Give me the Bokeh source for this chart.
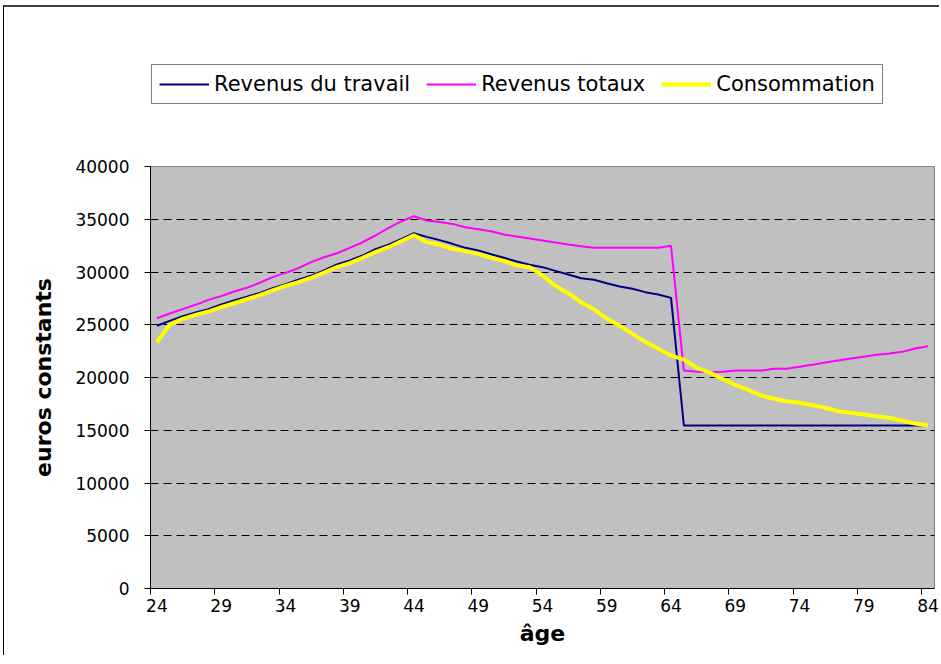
from bokeh.plotting import figure
from bokeh.models import Range1d, FixedTicker, Legend, LegendItem
from bokeh.layouts import column
from bokeh.embed import file_html
from bokeh.resources import INLINE

# ---- data ----
ages = list(range(24, 85))

revenus_travail = [
    24900, 25370, 25810, 26160, 26480, 26920, 27300, 27650, 28020, 28470,
    28850, 29260, 29640, 30140, 30710, 31090, 31560, 32160, 32580, 33110,
    33670, 33330, 33020, 32670, 32290, 32040, 31690, 31350, 31000, 30680,
    30460, 30110, 29760, 29410, 29260, 28940, 28630, 28410, 28090, 27870,
    27550, 15450, 15450, 15450, 15450, 15450, 15450, 15450, 15450, 15450,
    15450, 15450, 15450, 15450, 15450, 15450, 15450, 15450, 15450, 15450,
    15450,
]

revenus_totaux = [
    25620, 26070, 26480, 26890, 27360, 27710, 28150, 28500, 28980, 29510,
    29920, 30360, 30930, 31400, 31780, 32290, 32820, 33460, 34150, 34790,
    35290, 34880, 34750, 34560, 34250, 34060, 33870, 33550, 33360, 33180,
    32990, 32800, 32610, 32450, 32290, 32290, 32290, 32290, 32290, 32290,
    32480, 20660, 20540, 20500, 20540, 20660, 20660, 20660, 20820, 20820,
    21010, 21200, 21420, 21610, 21800, 21960, 22150, 22270, 22430, 22750,
    22970,
]

consommation = [
    23350, 25020, 25560, 25940, 26250, 26670, 27040, 27420, 27800, 28250,
    28690, 29030, 29450, 29950, 30460, 30840, 31350, 31880, 32350, 32920,
    33480, 32830, 32580, 32200, 31980, 31720, 31350, 31030, 30620, 30460,
    29670, 28690, 27990, 27140, 26480, 25590, 24900, 24140, 23380, 22720,
    22090, 21700, 20920, 20470, 19870, 19300, 18830, 18290, 17980, 17750,
    17600, 17370, 17130, 16810, 16650, 16490, 16330, 16180, 15890, 15640,
    15450,
]

x_tick_ages = list(range(24, 85, 5))
y_ticks = list(range(0, 40001, 5000))
series_names = ["Revenus du travail", "Revenus totaux", "Consommation"]
series_colors = ["#000080", "#FF00FF", "#FFFF00"]
series_widths = [2, 2, 4]

# category centres (Excel-style: category sits between two tick marks)
x_centres = [a + 0.5 for a in ages]

FONT = "DejaVu Sans"
W = 935
TOP_H = 110
MAIN_H = 538

# ---------- main chart ----------
p = figure(
    width=W, height=MAIN_H,
    x_range=Range1d(ages[0], ages[-1] + 1),
    y_range=Range1d(0, 40000),
    output_backend="svg", toolbar_location=None,
    min_border_left=146, min_border_right=5,
    min_border_top=49, min_border_bottom=67,
    background_fill_color="#C0C0C0", border_fill_color="white",
    outline_line_color="#808080", outline_line_width=1,
)

series_data = [revenus_travail, revenus_totaux, consommation]
for vals, col, lw in zip(series_data, series_colors, series_widths):
    p.line(x_centres, vals, line_color=col, line_width=lw)

# x axis: tick marks on category boundaries, labels on category centres
xa = p.xaxis[0]
xa.ticker = FixedTicker(ticks=[a + 0.5 for a in x_tick_ages], minor_ticks=x_tick_ages)
xa.major_label_overrides = {a + 0.5: str(a) for a in x_tick_ages}
xa.major_tick_line_color = None
xa.major_tick_out = 6
xa.major_tick_in = 0
xa.minor_tick_line_color = "black"
xa.minor_tick_out = 6
xa.minor_tick_in = 0
xa.axis_line_color = "black"
xa.major_label_text_font = FONT
xa.major_label_text_font_size = "17px"
xa.major_label_text_color = "black"
xa.major_label_standoff = 4
xa.axis_label = "âge"
xa.axis_label_text_font = FONT
xa.axis_label_text_font_style = "bold"
xa.axis_label_text_font_size = "22px"
xa.axis_label_text_color = "black"
xa.axis_label_standoff = 6

ya = p.yaxis[0]
ya.ticker = FixedTicker(ticks=y_ticks)
ya.major_tick_out = 6
ya.major_tick_in = 0
ya.minor_tick_line_color = None
ya.axis_line_color = "black"
ya.major_tick_line_color = "black"
ya.major_label_text_font = FONT
ya.major_label_text_font_size = "17px"
ya.major_label_text_color = "black"
ya.major_label_standoff = 15
ya.axis_label = "euros constants"
ya.axis_label_text_font = FONT
ya.axis_label_text_font_style = "bold"
ya.axis_label_text_font_size = "22px"
ya.axis_label_text_color = "black"
ya.axis_label_standoff = 16

p.xgrid.visible = False
p.ygrid.ticker = FixedTicker(ticks=y_ticks[1:-1])
p.ygrid.grid_line_color = "black"
p.ygrid.grid_line_width = 1
p.ygrid.grid_line_dash = "8 5"

# ---------- legend strip above the chart ----------
top = figure(
    width=W, height=TOP_H,
    x_axis_type=None, y_axis_type=None,
    x_range=Range1d(0, 1), y_range=Range1d(0, 1),
    output_backend="svg", toolbar_location=None,
    min_border=0, min_border_left=0, min_border_right=0,
    min_border_top=0, min_border_bottom=0,
    background_fill_color="white", border_fill_color="white",
    outline_line_color=None,
)
top.xgrid.visible = False
top.ygrid.visible = False
# proxy lines (outside the visible range) that only feed the legend swatches
legend_renderers = [
    top.line([5, 6], [5, 6], line_color=c, line_width=lw)
    for c, lw in zip(series_colors, series_widths)
]
legend = Legend(
    items=[LegendItem(label=n, renderers=[r]) for n, r in zip(series_names, legend_renderers)],
    orientation="horizontal",
    location=(1, 13),
    border_line_color="black", border_line_width=1,
    background_fill_color="white", background_fill_alpha=1.0,
    label_text_font=FONT, label_text_font_size="21px", label_text_color="black",
    glyph_width=50, glyph_height=20, label_height=20,
    label_standoff=5, spacing=16, padding=7, margin=0,
)
top.add_layout(legend, "center")

layout = column(top, p, spacing=0)
layout.styles = {
    "margin-left": "3px", "margin-top": "5px",
    "border-left": "1px solid #000000", "border-top": "2px solid #404040",
}

open("out.html", "w").write(file_html(layout, INLINE))
